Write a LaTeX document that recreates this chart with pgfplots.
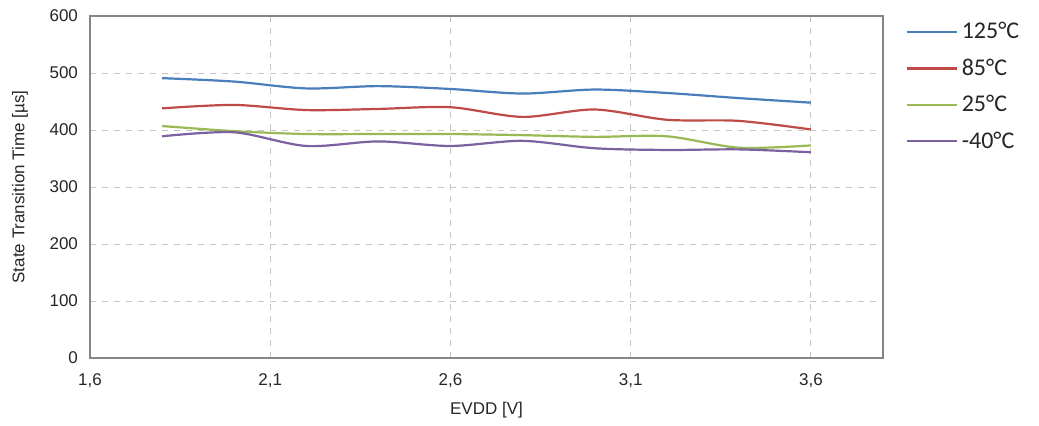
\documentclass[border=0pt]{standalone}
\usepackage{pgfplots}
\pgfplotsset{compat=1.18}
\usepackage{fontspec}
\setmainfont{Liberation Sans}
\newfontfamily\legfont{Carlito}
\definecolor{cblue}{HTML}{4A7EBB}
\definecolor{cred}{HTML}{BE4B48}
\definecolor{cgreen}{HTML}{98B954}
\definecolor{cpurple}{HTML}{7D60A0}
\definecolor{axgray}{HTML}{868686}
\definecolor{gridgray}{HTML}{C4C4C4}
\definecolor{txt}{HTML}{262626}
\begin{document}
\begin{tikzpicture}
\begin{axis}[
  at={(0,0)}, anchor=south west,
  scale only axis, width=396.5pt, height=171pt,
  xmin=1.6, xmax=3.8, ymin=0, ymax=600,
  xtick={1.6,2.1,2.6,3.1,3.6},
  ytick={0,100,200,300,400,500,600},
  major tick length=0pt,
  xticklabel style={/pgf/number format/fixed, /pgf/number format/fixed zerofill, /pgf/number format/precision=1, /pgf/number format/use comma, yshift=-4.5pt},
  yticklabel style={/pgf/number format/fixed, xshift=-2.5pt},
  /pgf/number format/assume math mode=true,
  tick label style={font=\fontsize{8.5}{10}\selectfont, text=txt},
  label style={font=\fontsize{8.5}{10}\selectfont, text=txt},
  xlabel={EVDD [V]},
  ylabel={State Transition Time [µs]},
  xlabel style={at={(axis description cs:0.5,0)}, anchor=center, yshift=-26pt},
  ylabel style={at={(axis description cs:0,0.5)}, anchor=center, yshift=35pt},
  grid=major,
  major grid style={dashed, gridgray, line width=0.5pt},
  axis line style={axgray, line width=0.9pt},
  legend style={draw=none, fill=none, at={(rel axis cs:1.028,0.994)}, anchor=north west,
    font=\legfont\fontsize{12}{14}\selectfont, text=txt, row sep=4.5pt, inner xsep=0pt, inner ysep=0pt},
  legend cell align=left,
  legend image code/.code={\draw[#1] (0pt,0pt) -- (25pt,0pt);},
  every axis plot/.append style={line width=1.1pt, smooth, tension=0.5, mark=none},
]
\addplot[cblue] coordinates {(1.8,491) (2.0,485) (2.2,473) (2.4,477) (2.6,472) (2.8,464) (3.0,471) (3.2,465) (3.4,456) (3.6,448)};
\addlegendentry{125°C}
\addplot[cred] coordinates {(1.8,438) (2.0,444) (2.2,435) (2.4,437) (2.6,440) (2.8,423) (3.0,436) (3.2,418) (3.4,416) (3.6,401)};
\addlegendentry{85°C}
\addplot[cgreen] coordinates {(1.8,407) (2.0,398) (2.2,393) (2.4,393) (2.6,393) (2.8,391) (3.0,388) (3.2,389) (3.4,369) (3.6,373)};
\addlegendentry{25°C}
\addplot[cpurple] coordinates {(1.8,389) (2.0,396) (2.2,372) (2.4,380) (2.6,372) (2.8,381) (3.0,368) (3.2,365) (3.4,366) (3.6,361)};
\addlegendentry{ -40°C}
\end{axis}
\pgfresetboundingbox
\useasboundingbox (-45pt,-33.5pt) rectangle (474.5pt,179pt);
\end{tikzpicture}
\end{document}
